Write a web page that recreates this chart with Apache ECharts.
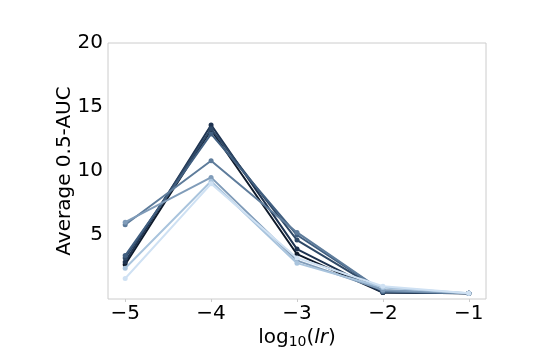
<!DOCTYPE html>
<html>
<head>
<meta charset="utf-8">
<script src="https://cdn.jsdelivr.net/npm/echarts@6/dist/echarts.min.js"></script>
<style>
  html, body { margin: 0; padding: 0; background: #fff; }
  #chart { width: 540px; height: 360px; }
</style>
</head>
<body>
<div id="chart"></div>
<script>
// x positions: log10 of learning rate
const lrExp = [-5, -4, -3, -2, -1]
const xTicks = [-5, -4, -3, -2, -1]
const yTicks = [5, 10, 15, 20]

// one line per run, dark -> light
const run1 = [2.7, 13.2, 3.5, 0.5, 0.45]
const run2 = [2.9, 13.6, 3.9, 0.5, 0.45]
const run3 = [3.2, 13.3, 4.6, 0.55, 0.45]
const run4 = [3.4, 12.9, 5.0, 0.6, 0.45]
const run5 = [5.8, 10.8, 5.2, 0.6, 0.45]
const run6 = [6.0, 9.5, 3.0, 0.7, 0.45]
const run7 = [2.4, 9.2, 2.8, 0.9, 0.45]
const run8 = [1.6, 9.0, 3.2, 1.0, 0.45]

const runs = [run1, run2, run3, run4, run5, run6, run7, run8]
const colors = ['#0e1a2b', '#1e3350', '#2e4866', '#415f80', '#5e7c9b', '#809cb9', '#a9c4dd', '#cfe1f3']

const chart = echarts.init(document.getElementById('chart'))

const series = runs.map((vals, i) => {
  return {
    type: 'line',
    data: vals.map((v, j) => [lrExp[j], v]),
    symbol: 'circle',
    symbolSize: 5,
    showSymbol: true,
    lineStyle: { width: 2, color: colors[i] },
    itemStyle: { color: colors[i] },
    z: 2 + i
  }
})

const minus = (v) => String(v).replace('-', '\u2212')

chart.setOption({
  animation: false,
  textStyle: { fontFamily: 'DejaVu Sans' },
  grid: {
    left: 108, right: 54, top: 43, bottom: 61,
    show: true, borderColor: '#cccccc', borderWidth: 1
  },
  xAxis: {
    type: 'value',
    min: -5.2,
    max: -0.8,
    name: 'log{sub|10}({it|lr})',
    nameLocation: 'middle',
    nameGap: 28,
    nameMoveOverlap: false,
    nameTextStyle: {
      fontSize: 20, color: '#000',
      rich: {
        sub: { fontSize: 14, verticalAlign: 'bottom', padding: [8, 0, 0, 0], color: '#000' },
        it: { fontSize: 20, fontStyle: 'italic', color: '#000' }
      }
    },
    axisLine: { show: false },
    splitLine: { show: false },
    axisTick: { show: true, customValues: xTicks, length: 3, lineStyle: { color: '#cccccc' } },
    axisLabel: { customValues: xTicks, fontSize: 20, color: '#000', margin: 5, formatter: minus }
  },
  yAxis: {
    type: 'value',
    min: 0,
    max: 20,
    interval: 5,
    name: 'Average 0.5-AUC',
    nameLocation: 'middle',
    nameGap: 33,
    nameMoveOverlap: false,
    nameTextStyle: { fontSize: 20, color: '#000' },
    axisLine: { show: false },
    splitLine: { show: false },
    axisTick: { show: false },
    axisLabel: {
      fontSize: 20, color: '#000', margin: 5,
      formatter: (v) => (yTicks.indexOf(v) >= 0 ? String(v) : '')
    }
  },
  series: series
})
</script>
</body>
</html>
